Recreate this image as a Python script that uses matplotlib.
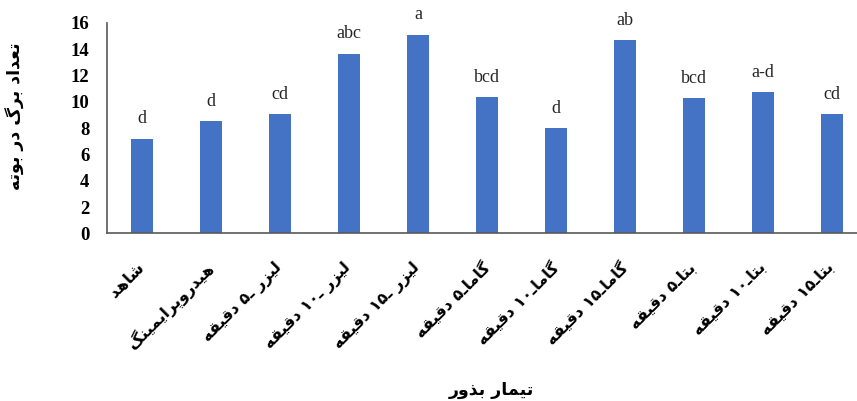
import matplotlib
matplotlib.use("Agg")
import matplotlib.pyplot as plt

# ---------------- data ----------------
categories = [
    "شاهد",
    "هیدروپرایمینگ",
    "لیزر ـ۵ دقیقه",
    "لیزر ـ۱۰ دقیقه",
    "لیزر ـ۱۵ دقیقه",
    "گاماـ۵ دقیقه",
    "گاماـ۱۰ دقیقه",
    "گاماـ۱۵ دقیقه",
    "بتاـ۵ دقیقه",
    "بتاـ۱۰ دقیقه",
    "بتاـ۱۵ دقیقه",
]
values = [7.2, 8.5, 9.05, 13.65, 15.1, 10.35, 8.0, 14.65, 10.25, 10.7, 9.05]
letters = ["d", "d", "cd", "abc", "a", "bcd", "d", "ab", "bcd", "a-d", "cd"]
y_ticks = [0, 2, 4, 6, 8, 10, 12, 14, 16]
x_title = "تیمار بذور"
y_title = "تعداد برگ در بوته"

# ------------- minimal Arabic/Persian shaping -------------
FORMS = {
    "\u0627": ("\uFE8D", "\uFE8E", None, None),
    "\u0628": ("\uFE8F", "\uFE90", "\uFE91", "\uFE92"),
    "\u062A": ("\uFE95", "\uFE96", "\uFE97", "\uFE98"),
    "\u062F": ("\uFEA9", "\uFEAA", None, None),
    "\u0630": ("\uFEAB", "\uFEAC", None, None),
    "\u0631": ("\uFEAD", "\uFEAE", None, None),
    "\u0632": ("\uFEAF", "\uFEB0", None, None),
    "\u0634": ("\uFEB5", "\uFEB6", "\uFEB7", "\uFEB8"),
    "\u0639": ("\uFEC9", "\uFECA", "\uFECB", "\uFECC"),
    "\u0642": ("\uFED5", "\uFED6", "\uFED7", "\uFED8"),
    "\u0644": ("\uFEDD", "\uFEDE", "\uFEDF", "\uFEE0"),
    "\u0645": ("\uFEE1", "\uFEE2", "\uFEE3", "\uFEE4"),
    "\u0646": ("\uFEE5", "\uFEE6", "\uFEE7", "\uFEE8"),
    "\u0647": ("\uFEE9", "\uFEEA", "\uFEEB", "\uFEEC"),
    "\u0648": ("\uFEED", "\uFEEE", None, None),
    "\u067E": ("\uFB56", "\uFB57", "\uFB58", "\uFB59"),
    "\u06AF": ("\uFB92", "\uFB93", "\uFB94", "\uFB95"),
    "\u06CC": ("\uFBFC", "\uFBFD", "\uFBFE", "\uFBFF"),
}
TATWEEL = "\u0640"


def dual(c):
    return c == TATWEEL or (c in FORMS and FORMS[c][2] is not None)


def joining(c):
    return c == TATWEEL or c in FORMS


def shape(s):
    out = []
    for i, c in enumerate(s):
        if c not in FORMS:
            out.append(c)
            continue
        prev = s[i - 1] if i > 0 else ""
        nxt = s[i + 1] if i + 1 < len(s) else ""
        jp = bool(prev) and dual(prev)
        jn = dual(c) and bool(nxt) and joining(nxt)
        iso, fin, ini, med = FORMS[c]
        if jp and jn:
            out.append(med)
        elif jp:
            out.append(fin)
        elif jn:
            out.append(ini)
        else:
            out.append(iso)
    shaped = "".join(out)
    # visual reorder: reverse, keeping digit runs left-to-right
    tokens = []
    for ch in shaped:
        isdig = ch.isdigit()
        if isdig and tokens and tokens[-1][0]:
            tokens[-1][1] += ch
        else:
            tokens.append([isdig, ch])
    return "".join(t[1] for t in reversed(tokens))


# ---------------- figure ----------------
plt.rcParams["font.family"] = ["DejaVu Sans"]
fig = plt.figure(figsize=(8.57, 4.01), dpi=100)
ax = fig.add_axes([0.1254, 0.418, 1.011 - 0.1254, 0.9434 - 0.418])

x = list(range(len(categories)))
bars = ax.bar(x, values, width=0.32, color="#4472C4", zorder=2)

for xi, v, lab in zip(x, values, letters):
    ax.annotate(lab, (xi, v), xytext=(0, 11), textcoords="offset points",
                ha="center", va="baseline", fontsize=13,
                family="Liberation Serif", color="#262626")

ax.set_xlim(-0.5, len(categories) - 0.5)
ax.set_ylim(0, 16)
ax.set_yticks(y_ticks)
ax.set_yticklabels([str(t) for t in y_ticks], family="Liberation Serif",
                   fontweight="bold", fontsize=13.5)
ax.tick_params(axis="y", length=0, pad=13)
ax.set_xticks(x)
ax.set_xticklabels([shape(c) for c in categories], rotation=45, ha="right",
                   va="center", rotation_mode="anchor", fontsize=11.5,
                   fontweight="bold")
ax.tick_params(axis="x", length=0, pad=23)

for side in ["top", "right"]:
    ax.spines[side].set_visible(False)
for side in ["left", "bottom"]:
    ax.spines[side].set_color("#595959")
    ax.spines[side].set_linewidth(1.2)

fig.text(0.018, 0.71, shape(y_title), rotation=90, ha="center", va="center",
         fontsize=12.5, fontweight="bold")
fig.text(0.573, 0.027, shape(x_title), ha="center", va="center",
         fontsize=12.5, fontweight="bold")

fig.savefig("out.png", dpi=100)
